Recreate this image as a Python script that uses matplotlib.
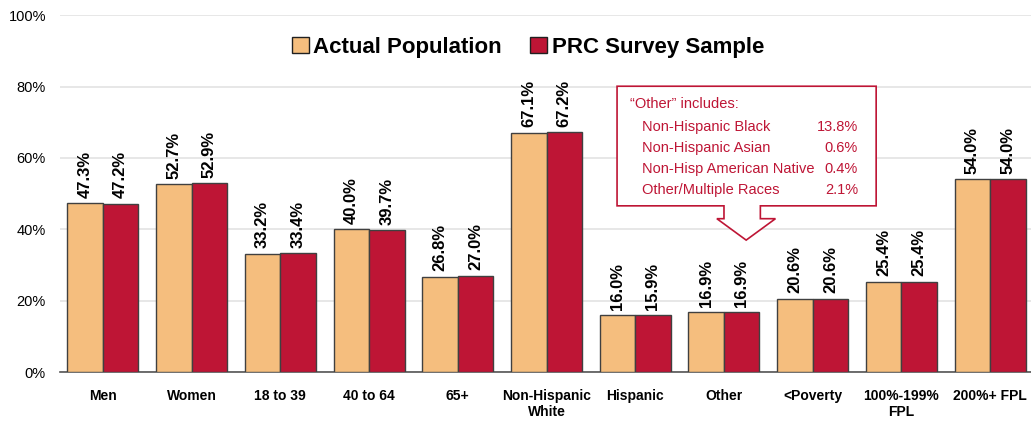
import numpy as np
import matplotlib.pyplot as plt
from matplotlib.patches import Polygon

plt.rcParams['font.family'] = ['Liberation Sans', 'DejaVu Sans']

categories = ['Men', 'Women', '18 to 39', '40 to 64', '65+', 'Non-Hispanic\nWhite',
              'Hispanic', 'Other', '<Poverty', '100%-199%\nFPL', '200%+ FPL']
actual = [47.3, 52.7, 33.2, 40.0, 26.8, 67.1, 16.0, 16.9, 20.6, 25.4, 54.0]
sample = [47.2, 52.9, 33.4, 39.7, 27.0, 67.2, 15.9, 16.9, 20.6, 25.4, 54.0]
other_names = ['Non-Hispanic Black', 'Non-Hispanic Asian', 'Non-Hisp American Native', 'Other/Multiple Races']
other_vals = ['13.8%', '0.6%', '0.4%', '2.1%']

c_act = '#F5BE7E'
c_prc = '#BE1535'

fig = plt.figure(figsize=(10.31, 4.22), dpi=100)
ax = fig.add_axes([0.058, 0.118, 0.942, 0.846])

x = np.arange(len(categories))
w = 0.4
ax.bar(x - w / 2, actual, w, color=c_act, edgecolor='#404040', linewidth=1, label='Actual Population', zorder=3)
ax.bar(x + w / 2, sample, w, color=c_prc, edgecolor='#404040', linewidth=1, label='PRC Survey Sample', zorder=3)

for xi, a, s in zip(x, actual, sample):
    ax.text(xi - w / 2, a + 1.5, f'{a:.1f}%', rotation=90, ha='center', va='bottom',
            fontsize=12, fontweight='bold')
    ax.text(xi + w / 2, s + 1.5, f'{s:.1f}%', rotation=90, ha='center', va='bottom',
            fontsize=12, fontweight='bold')

ax.set_ylim(0, 100)
ax.set_xlim(-0.485, 10.46)
ax.set_yticks(range(0, 101, 20))
ax.set_yticklabels([f'{v}%' for v in range(0, 101, 20)], fontsize=10.5)
ax.set_xticks(x)
ax.set_xticklabels(categories, fontsize=10, fontweight='bold', linespacing=1.15)
ax.tick_params(length=0)
ax.tick_params(axis='x', pad=12)
ax.tick_params(axis='y', pad=10)
ax.grid(axis='y', color='#E3E3E3', linewidth=1.2, zorder=0)
for sp in ['top', 'right', 'left']:
    ax.spines[sp].set_visible(False)
ax.spines['bottom'].set_color('#555555')
ax.spines['bottom'].set_linewidth(1.2)

leg = ax.legend(loc='upper center', bbox_to_anchor=(0.482, 0.995), ncol=2, frameon=False,
                prop={'weight': 'bold', 'size': 16},
                handlelength=0.75, handleheight=0.75, handletextpad=0.2, columnspacing=1.3)
for h in leg.legend_handles:
    h.set_edgecolor('#202020')

# callout box with down arrow
bx0, bx1, by0, by1 = 5.795, 8.715, 46.6, 80.1
sx0, sx1, hx0, hx1, tipx = 7.0, 7.41, 6.92, 7.58, 7.25
hy, tipy = 43.0, 37.0
callout = Polygon([(bx0, by1), (bx1, by1), (bx1, by0), (sx1, by0), (sx1, hy), (hx1, hy),
                   (tipx, tipy), (hx0, hy), (sx0, hy), (sx0, by0), (bx0, by0)],
                  closed=True, facecolor='white', edgecolor=c_prc, linewidth=1.2, zorder=5)
ax.add_patch(callout)
ax.text(5.94, 75, '\u201cOther\u201d includes:', color=c_prc, fontsize=10.5, va='center', zorder=6)
for i, (nm, v) in enumerate(zip(other_names, other_vals)):
    yy = 68.8 - i * 5.9
    ax.text(6.08, yy, nm, color=c_prc, fontsize=10.5, va='center', zorder=6)
    ax.text(8.51, yy, v, color=c_prc, fontsize=10.5, va='center', ha='right', zorder=6)

fig.savefig('out.png', dpi=100)
